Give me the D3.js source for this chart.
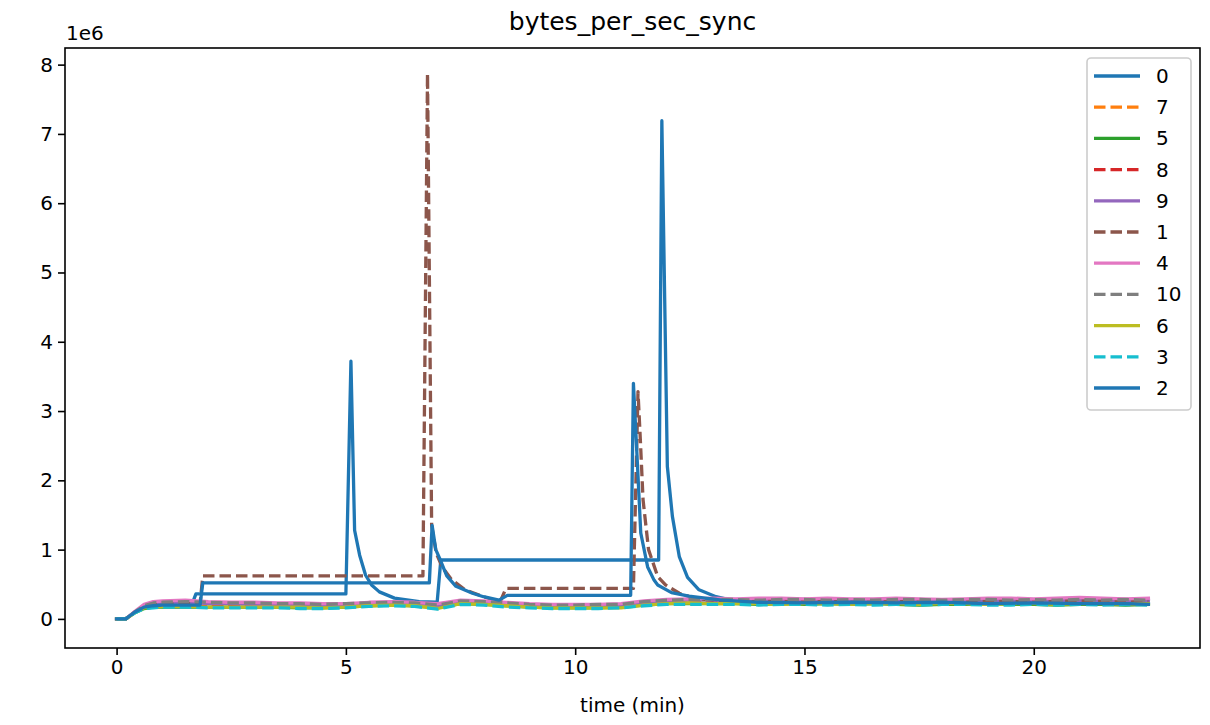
<!DOCTYPE html>
<html>
<head>
<meta charset="utf-8">
<script src="https://cdn.jsdelivr.net/npm/d3@7/dist/d3.min.js"></script>
<style>
  html, body { margin: 0; padding: 0; background: #fff; }
  svg { display: block; font-family: "DejaVu Sans", sans-serif; }
</style>
</head>
<body>
<svg id="chart" width="1210" height="725"></svg>
<script>
// ---------------- DATA (values in units of 1e6 bytes/sec) ----------------
const seriesNames = ["0", "7", "5", "8", "9", "1", "4", "10", "6", "3", "2"];
const xTicks = [0, 5, 10, 15, 20];
const yTicks = [0, 1, 2, 3, 4, 5, 6, 7, 8];

// shared time grid (minutes) for the low "cluster" series
const timeGrid = [0, 0.2, 0.4, 0.6, 0.8, 1,
  1.5, 2, 2.5, 3, 3.5, 4, 4.5, 5,
  5.5, 6, 6.5, 7, 7.5, 8, 8.5, 9,
  9.5, 10, 10.5, 11, 11.5, 12, 12.5, 13,
  13.5, 14, 14.5, 15, 15.5, 16, 16.5, 17,
  17.5, 18, 18.5, 19, 19.5, 20, 20.5, 21,
  21.5, 22, 22.5];

const s7 = [0, 0, 0.1, 0.17, 0.2, 0.21,
  0.22, 0.21, 0.21, 0.2, 0.2, 0.2, 0.19, 0.2,
  0.21, 0.22, 0.21, 0.18, 0.24, 0.23, 0.21, 0.19,
  0.18, 0.18, 0.19, 0.19, 0.23, 0.25, 0.26, 0.26,
  0.26, 0.25, 0.26, 0.26, 0.25, 0.26, 0.25, 0.26,
  0.26, 0.25, 0.26, 0.25, 0.26, 0.26, 0.25, 0.26,
  0.25, 0.26, 0.25];
const s5 = [0, 0, 0.09, 0.15, 0.17, 0.17,
  0.17, 0.17, 0.17, 0.17, 0.17, 0.16, 0.16, 0.17,
  0.19, 0.2, 0.19, 0.16, 0.22, 0.21, 0.19, 0.17,
  0.16, 0.16, 0.16, 0.17, 0.2, 0.22, 0.22, 0.22,
  0.22, 0.21, 0.22, 0.21, 0.22, 0.21, 0.22, 0.21,
  0.2, 0.21, 0.21, 0.22, 0.21, 0.21, 0.2, 0.21,
  0.21, 0.2, 0.21];
const s8 = [0, 0, 0.1, 0.17, 0.19, 0.2,
  0.21, 0.21, 0.2, 0.2, 0.2, 0.19, 0.19, 0.19,
  0.21, 0.21, 0.2, 0.17, 0.23, 0.22, 0.2, 0.19,
  0.18, 0.18, 0.18, 0.19, 0.22, 0.24, 0.25, 0.25,
  0.25, 0.25, 0.24, 0.25, 0.25, 0.24, 0.25, 0.25,
  0.24, 0.25, 0.25, 0.24, 0.25, 0.24, 0.25, 0.24,
  0.25, 0.24, 0.24];
const s9 = [0, 0, 0.1, 0.18, 0.21, 0.22,
  0.23, 0.22, 0.22, 0.21, 0.21, 0.21, 0.2, 0.21,
  0.22, 0.23, 0.22, 0.19, 0.25, 0.24, 0.22, 0.2,
  0.19, 0.19, 0.2, 0.2, 0.24, 0.26, 0.27, 0.27,
  0.27, 0.26, 0.27, 0.28, 0.26, 0.27, 0.26, 0.27,
  0.27, 0.26, 0.27, 0.26, 0.27, 0.27, 0.26, 0.27,
  0.26, 0.27, 0.26];
const s4 = [0, 0, 0.11, 0.21, 0.25, 0.26,
  0.27, 0.25, 0.24, 0.24, 0.23, 0.23, 0.22, 0.22,
  0.24, 0.25, 0.24, 0.22, 0.27, 0.26, 0.24, 0.22,
  0.21, 0.21, 0.21, 0.22, 0.26, 0.28, 0.29, 0.3,
  0.29, 0.3, 0.3, 0.29, 0.3, 0.29, 0.29, 0.3,
  0.29, 0.28, 0.29, 0.3, 0.3, 0.29, 0.3, 0.31,
  0.3, 0.29, 0.3];
const s10 = [0, 0, 0.1, 0.19, 0.23, 0.24,
  0.25, 0.24, 0.23, 0.23, 0.22, 0.22, 0.21, 0.22,
  0.23, 0.24, 0.23, 0.2, 0.26, 0.25, 0.23, 0.21,
  0.2, 0.2, 0.21, 0.21, 0.25, 0.27, 0.28, 0.28,
  0.28, 0.27, 0.28, 0.28, 0.27, 0.28, 0.27, 0.28,
  0.28, 0.27, 0.28, 0.28, 0.27, 0.28, 0.27, 0.28,
  0.27, 0.28, 0.27];
const s6 = [0, 0, 0.09, 0.16, 0.17, 0.18,
  0.18, 0.17, 0.17, 0.17, 0.17, 0.17, 0.16, 0.17,
  0.19, 0.2, 0.19, 0.15, 0.22, 0.21, 0.19, 0.17,
  0.16, 0.16, 0.16, 0.16, 0.2, 0.22, 0.23, 0.22,
  0.22, 0.22, 0.21, 0.22, 0.22, 0.21, 0.22, 0.22,
  0.21, 0.22, 0.22, 0.21, 0.22, 0.22, 0.21, 0.22,
  0.22, 0.21, 0.22];
const s3 = [0, 0, 0.09, 0.15, 0.16, 0.17,
  0.17, 0.16, 0.16, 0.16, 0.16, 0.15, 0.15, 0.16,
  0.18, 0.19, 0.18, 0.14, 0.21, 0.2, 0.17, 0.16,
  0.15, 0.15, 0.15, 0.16, 0.19, 0.21, 0.21, 0.21,
  0.21, 0.2, 0.21, 0.21, 0.2, 0.21, 0.2, 0.21,
  0.2, 0.21, 0.21, 0.2, 0.2, 0.21, 0.2, 0.21,
  0.2, 0.21, 0.2];

// series with their own sample times (spikes)
const t0 = [0, 0.2, 0.4, 0.6, 0.8, 1, 1.5, 1.65, 1.73, 2.5, 3.5, 4.5, 5.0,
  5.11, 5.19, 5.3, 5.43, 5.56, 5.73, 6.06, 6.6, 6.99, 7.07,
  8, 9, 10, 11, 11.82,
  11.89, 12.01, 12.12, 12.27, 12.45, 12.7, 13.07, 13.4,
  14, 15, 16, 17, 18, 19, 20, 21, 22, 22.5];
const s0 = [0, 0, 0.1, 0.17, 0.19, 0.2, 0.21, 0.22, 0.36, 0.36, 0.36, 0.36, 0.36,
  3.72, 1.28, 0.92, 0.63, 0.49, 0.39, 0.3, 0.25, 0.24, 0.85,
  0.85, 0.85, 0.85, 0.85, 0.85,
  7.19, 2.2, 1.48, 0.9, 0.6, 0.42, 0.32, 0.27,
  0.25, 0.24, 0.25, 0.24, 0.23, 0.24, 0.23, 0.22, 0.23, 0.22];

const t1 = [0, 0.2, 0.4, 0.6, 0.8, 1, 1.5, 1.82, 1.88, 3, 4, 5, 6, 6.68,
  6.78, 6.87, 6.97, 7.1, 7.3, 7.6, 8.0, 8.2, 8.36, 8.49,
  9, 10, 11, 11.27,
  11.37, 11.42, 11.48, 11.6, 11.8, 11.97, 12.27, 12.6, 13,
  14, 15, 16, 17, 18, 19, 20, 21, 22, 22.5];
const s1 = [0, 0, 0.1, 0.18, 0.2, 0.21, 0.22, 0.22, 0.62, 0.62, 0.62, 0.62, 0.62, 0.62,
  7.87, 1.35, 0.95, 0.75, 0.57, 0.42, 0.32, 0.28, 0.24, 0.44,
  0.44, 0.44, 0.44, 0.44,
  3.28, 2.6, 1.72, 1.0, 0.61, 0.49, 0.37, 0.3, 0.27,
  0.26, 0.27, 0.26, 0.27, 0.26, 0.26, 0.27, 0.26, 0.27, 0.26];

const t2 = [0, 0.2, 0.4, 0.6, 0.8, 1, 1.5, 1.82, 1.88, 3, 4, 5, 6, 6.82,
  6.88, 6.96, 7.04, 7.2, 7.4, 7.76, 8.0, 8.34, 8.52,
  9, 10, 11, 11.21,
  11.27, 11.36, 11.43, 11.58, 11.72, 11.8, 12.1, 12.48, 13.2,
  14, 15, 16, 17, 18, 19, 20, 21, 22, 22.5];
const s2 = [0, 0, 0.1, 0.17, 0.19, 0.2, 0.2, 0.2, 0.52, 0.52, 0.52, 0.52, 0.52, 0.52,
  1.35, 1.0, 0.88, 0.62, 0.47, 0.37, 0.32, 0.27, 0.34,
  0.34, 0.34, 0.34, 0.34,
  3.4, 2.2, 1.24, 0.75, 0.56, 0.49, 0.38, 0.33, 0.27,
  0.24, 0.23, 0.24, 0.23, 0.24, 0.22, 0.23, 0.22, 0.22, 0.21];

const seriesTimes = { "0": t0, "7": timeGrid, "5": timeGrid, "8": timeGrid, "9": timeGrid,
  "1": t1, "4": timeGrid, "10": timeGrid, "6": timeGrid, "3": timeGrid, "2": t2 };
const seriesValues = { "0": s0, "7": s7, "5": s5, "8": s8, "9": s9,
  "1": s1, "4": s4, "10": s10, "6": s6, "3": s3, "2": s2 };

// ---------------- STYLE ----------------
const colors = { "0": "#1f77b4", "7": "#ff7f0e", "5": "#2ca02c", "8": "#d62728", "9": "#9467bd",
  "1": "#8c564b", "4": "#e377c2", "10": "#7f7f7f", "6": "#bcbd22", "3": "#17becf", "2": "#1f77b4" };
const dashed = new Set(["7", "8", "1", "10", "3"]);
const LW = 3.3;
const DASH = "11.5,5";

const svg = d3.select("#chart");
const mLeft = 65, mRight = 1200, mTop = 48, mBottom = 648;
const x = d3.scaleLinear().domain([-1.125, 23.625]).range([mLeft, mRight]);
const y = d3.scaleLinear().domain([-0.42, 8.24]).range([mBottom, mTop]);

const FS = 20;

// lines
const line = d3.line().x(d => x(d[0])).y(d => y(d[1])).curve(d3.curveLinear);
const g = svg.append("g");
seriesNames.forEach(name => {
  const pts = seriesTimes[name].map((t, i) => [t, seriesValues[name][i]]);
  g.append("path")
    .datum(pts)
    .attr("d", line)
    .attr("fill", "none")
    .attr("stroke", colors[name])
    .attr("stroke-width", LW)
    .attr("stroke-linejoin", "round")
    .attr("stroke-linecap", dashed.has(name) ? "butt" : "square")
    .attr("stroke-dasharray", dashed.has(name) ? DASH : null);
});

// axes
const xAxis = d3.axisBottom(x).tickValues(xTicks).tickSize(7).tickPadding(5).tickFormat(d3.format("d"));
const yAxis = d3.axisLeft(y).tickValues(yTicks).tickSize(7).tickPadding(5).tickFormat(d3.format("d"));
const gx = svg.append("g").attr("transform", `translate(0,${mBottom})`).call(xAxis);
const gy = svg.append("g").attr("transform", `translate(${mLeft},0)`).call(yAxis);
[gx, gy].forEach(ax => {
  ax.select(".domain").remove();
  ax.selectAll(".tick line").attr("stroke", "#000").attr("stroke-width", 1.6);
  ax.selectAll(".tick text").attr("fill", "#000").style("font-size", FS + "px")
    .style("font-family", "DejaVu Sans");
});

// frame
svg.append("rect").attr("x", mLeft).attr("y", mTop)
  .attr("width", mRight - mLeft).attr("height", mBottom - mTop)
  .attr("fill", "none").attr("stroke", "#000").attr("stroke-width", 1.6);

// offset text
svg.append("text").attr("x", mLeft + 1).attr("y", 40)
  .style("font-size", FS + "px").text("1e6");

// title and label
svg.append("text").attr("x", (mLeft + mRight) / 2).attr("y", 30)
  .attr("text-anchor", "middle").style("font-size", "25px").text("bytes_per_sec_sync");
svg.append("text").attr("x", (mLeft + mRight) / 2).attr("y", 712)
  .attr("text-anchor", "middle").style("font-size", FS + "px").text("time (min)");

// legend
const lg = svg.append("g");
lg.append("rect").attr("x", 1087).attr("y", 58).attr("width", 104).attr("height", 352)
  .attr("rx", 4).attr("fill", "#fff").attr("fill-opacity", 0.8)
  .attr("stroke", "#cccccc").attr("stroke-width", 1.6);
seriesNames.forEach((name, i) => {
  const cy = 76 + i * 31.2;
  lg.append("line").attr("x1", 1094).attr("x2", 1140).attr("y1", cy).attr("y2", cy)
    .attr("stroke", colors[name]).attr("stroke-width", LW)
    .attr("stroke-dasharray", dashed.has(name) ? DASH : null);
  lg.append("text").attr("x", 1156).attr("y", cy).attr("dy", "0.35em")
    .style("font-size", FS + "px").text(name);
});
</script>
</body>
</html>
